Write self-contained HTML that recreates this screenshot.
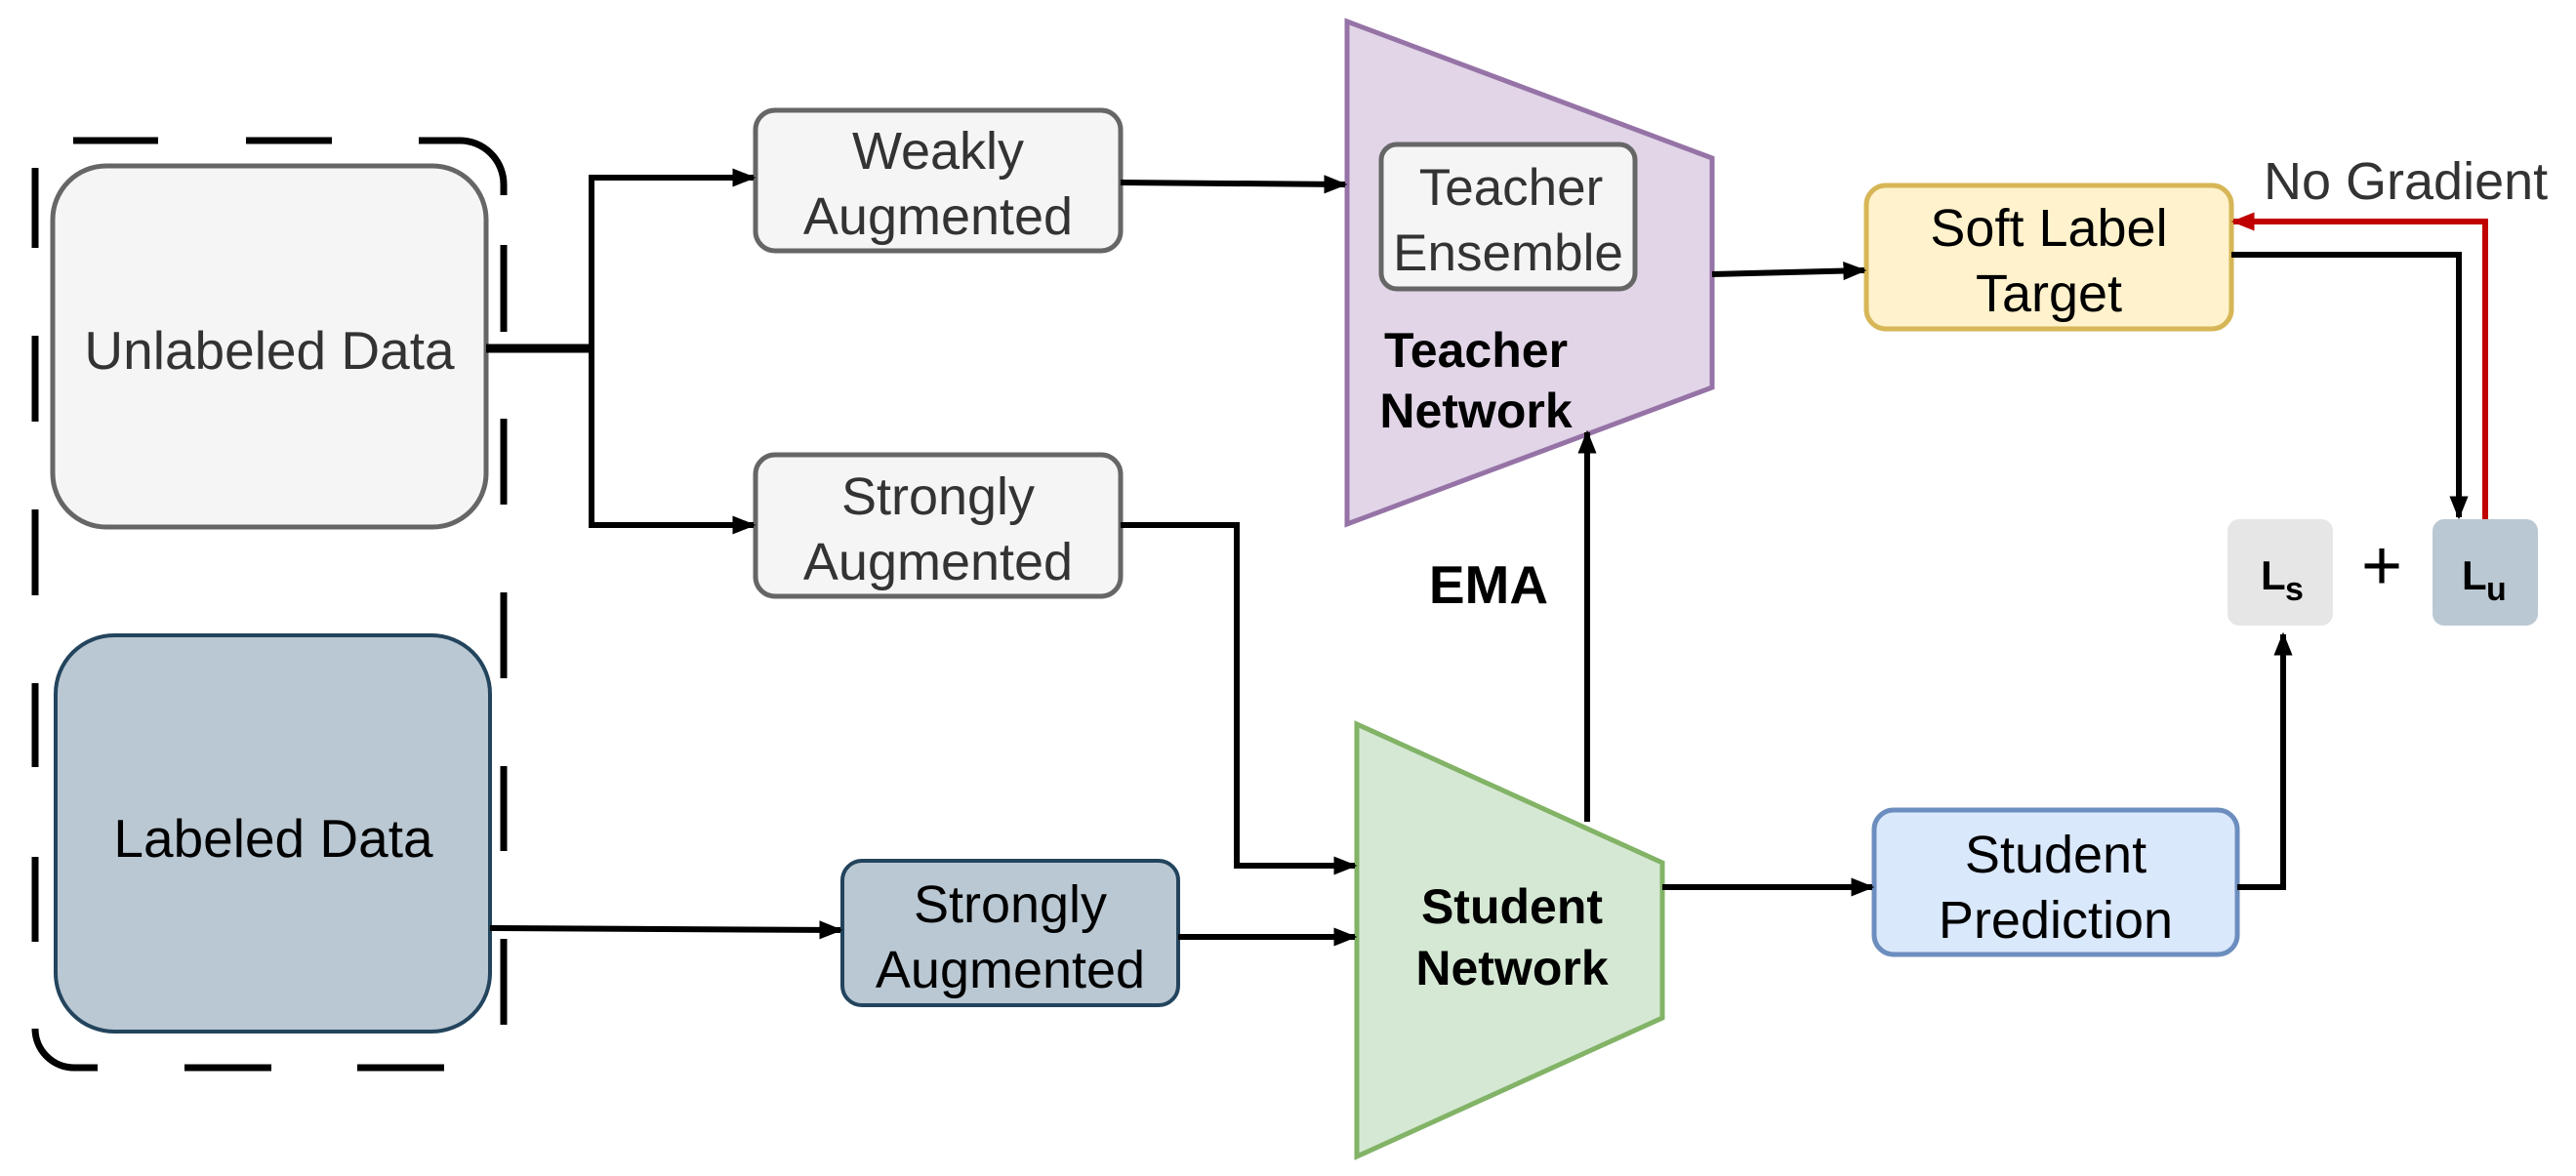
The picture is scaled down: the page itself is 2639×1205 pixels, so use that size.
<!DOCTYPE html>
<html><head><meta charset="utf-8"><style>
html,body{margin:0;padding:0;background:#fff}
svg{display:block}
text{font-family:"Liberation Sans",sans-serif}
</style></head><body>
<svg width="2639" height="1205" viewBox="0 0 2639 1205" xmlns="http://www.w3.org/2000/svg">
<defs>
<marker id="a" viewBox="0 0 10 10" refX="9" refY="5" markerWidth="24" markerHeight="24" markerUnits="userSpaceOnUse" orient="auto"><path d="M0,1 L10,5 L0,9 z" fill="#000"/></marker>
<marker id="ar" viewBox="0 0 10 10" refX="9" refY="5" markerWidth="24" markerHeight="24" markerUnits="userSpaceOnUse" orient="auto"><path d="M0,1 L10,5 L0,9 z" fill="#c00000"/></marker>
</defs>

<g fill="none" stroke="#000" stroke-width="7">
<path d="M75,144 H162 M252,144 H340 M429,144 H471 A45,45 0 0 1 516,189 V200"/>
<path d="M516,251 V340 M516,429 V517 M516,607 V695 M516,785 V872 M516,962 V1050"/>
<path d="M189,1094 H278 M366,1094 H455"/>
<path d="M36,1054 A40,40 0 0 0 76,1094 H100"/>
<path d="M36,172 V254 M36,344 V432 M36,522 V610 M36,700 V786 M36,878 V965"/>
</g>

<rect x="54" y="170" width="444" height="370" rx="55" fill="#f5f5f5" stroke="#666" stroke-width="5"/>
<text x="276" y="378" font-size="55" fill="#333" text-anchor="middle">Unlabeled Data</text>

<rect x="57" y="651" width="445" height="406" rx="60" fill="#bac8d3" stroke="#23445d" stroke-width="4"/>
<text x="280" y="878" font-size="55" fill="#000" text-anchor="middle">Labeled Data</text>

<rect x="774" y="113" width="374" height="144" rx="20" fill="#f5f5f5" stroke="#666" stroke-width="5"/>
<text x="961" y="173" font-size="54" fill="#333" text-anchor="middle">Weakly</text>
<text x="961" y="240" font-size="54" fill="#333" text-anchor="middle">Augmented</text>

<rect x="774" y="466" width="374" height="145" rx="20" fill="#f5f5f5" stroke="#666" stroke-width="5"/>
<text x="961" y="527" font-size="54" fill="#333" text-anchor="middle">Strongly</text>
<text x="961" y="594" font-size="54" fill="#333" text-anchor="middle">Augmented</text>

<rect x="863" y="882" width="344" height="148" rx="20" fill="#bac8d3" stroke="#23445d" stroke-width="4"/>
<text x="1035" y="945" font-size="54" fill="#000" text-anchor="middle">Strongly</text>
<text x="1035" y="1012" font-size="54" fill="#000" text-anchor="middle">Augmented</text>

<polygon points="1380,22 1754,162 1754,397 1380,537" fill="#e1d5e7" stroke="#9673a6" stroke-width="5"/>
<rect x="1415" y="148" width="260" height="148" rx="16" fill="#f5f5f5" stroke="#666" stroke-width="5"/>
<text x="1548" y="210" font-size="53" fill="#333" text-anchor="middle">Teacher</text>
<text x="1545" y="277" font-size="53" fill="#333" text-anchor="middle">Ensemble</text>
<text x="1512" y="376" font-size="50" font-weight="bold" fill="#000" text-anchor="middle">Teacher</text>
<text x="1512" y="438" font-size="50" font-weight="bold" fill="#000" text-anchor="middle">Network</text>

<polygon points="1390,742 1703,884 1703,1043 1390,1185" fill="#d5e8d4" stroke="#82b366" stroke-width="5"/>
<text x="1549" y="946" font-size="50" font-weight="bold" fill="#000" text-anchor="middle">Student</text>
<text x="1549" y="1009" font-size="50" font-weight="bold" fill="#000" text-anchor="middle">Network</text>

<text x="1525" y="618" font-size="55" font-weight="bold" fill="#000" text-anchor="middle">EMA</text>

<rect x="1912" y="190" width="374" height="147" rx="20" fill="#fff2cc" stroke="#d6b656" stroke-width="5"/>
<text x="2099" y="252" font-size="54" fill="#000" text-anchor="middle">Soft Label</text>
<text x="2099" y="319" font-size="54" fill="#000" text-anchor="middle">Target</text>

<rect x="1920" y="830" width="372" height="148" rx="20" fill="#dae8fc" stroke="#6c8ebf" stroke-width="5"/>
<text x="2106" y="894" font-size="54" fill="#000" text-anchor="middle">Student</text>
<text x="2106" y="961" font-size="54" fill="#000" text-anchor="middle">Prediction</text>

<rect x="2282" y="532" width="108" height="109" rx="12" fill="#e6e6e6"/>
<text x="2316" y="604" font-size="42" font-weight="bold" fill="#000">L</text><text x="2341" y="615" font-size="34" font-weight="bold" fill="#000">s</text>
<rect x="2492" y="532" width="108" height="109" rx="12" fill="#bac8d3"/>
<text x="2522" y="604" font-size="42" font-weight="bold" fill="#000">L</text><text x="2547" y="615" font-size="34" font-weight="bold" fill="#000">u</text>
<text x="2440" y="604" font-size="72" fill="#000" text-anchor="middle">+</text>

<text x="2319" y="204" font-size="54" fill="#333">No Gradient</text>

<g fill="none" stroke="#000" stroke-width="6">
<path d="M498,357 H606" stroke-width="9"/>
<path d="M606,357 V182 H772" marker-end="url(#a)"/>
<path d="M606,357 V538 H772" marker-end="url(#a)"/>
<path d="M1148,187 L1378,189" marker-end="url(#a)"/>
<path d="M1148,538 H1267 V887 H1388" marker-end="url(#a)"/>
<path d="M502,951 L861,953" marker-end="url(#a)"/>
<path d="M1207,960 H1388" marker-end="url(#a)"/>
<path d="M1626,842 V443" marker-end="url(#a)"/>
<path d="M1754,281 L1910,277" marker-end="url(#a)"/>
<path d="M1703,909 H1918" marker-end="url(#a)"/>
<path d="M2292,909 H2339 V650" marker-end="url(#a)"/>
<path d="M2286,261 H2519 V530" marker-end="url(#a)"/>
</g>
<path d="M2546,532 V227 H2288" fill="none" stroke="#c00000" stroke-width="6" marker-end="url(#ar)"/>
</svg>
</body></html>
